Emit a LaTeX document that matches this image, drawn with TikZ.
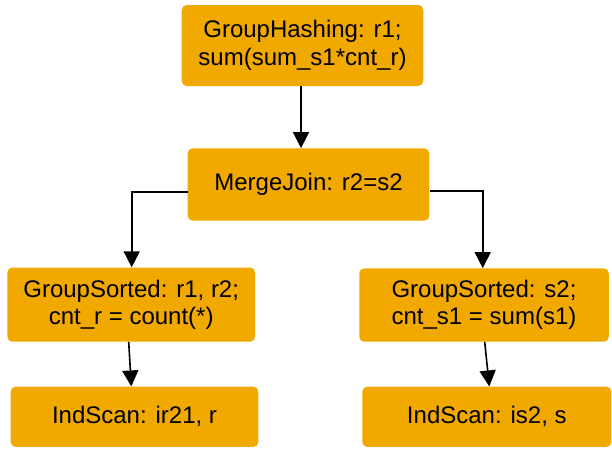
\documentclass[tikz,border=0pt]{standalone}
\usepackage{fontspec}
\setmainfont{Liberation Sans}
\usetikzlibrary{arrows.meta}
\definecolor{boxfill}{RGB}{241,169,0}
\tikzset{
  opbox/.style={fill=boxfill, rounded corners=5pt, inner sep=0pt, align=center,
    font=\fontsize{24}{27.5}\selectfont},
  arr/.style={draw=black, line width=1.6pt, -{Triangle[length=16pt,width=16pt]}}
}
\begin{document}
\begin{tikzpicture}[x=1pt,y=-1pt]
\useasboundingbox (0,0) rectangle (612,448);
\node[opbox, minimum width=241.6pt, minimum height=81pt] (top) at (302.5,45.5)
  {GroupHashing: r1;\\sum(sum\_s1*cnt\_r)};
\node[opbox, minimum width=241.6pt, minimum height=72.4pt] (merge) at (308.5,184.5)
  {MergeJoin: r2=s2};
\node[opbox, minimum width=247.7pt, minimum height=74.2pt] (gsl) at (131.2,304.6)
  {GroupSorted: r1, r2;\\cnt\_r = count(*)};
\node[opbox, minimum width=249.5pt, minimum height=73.4pt] (gsr) at (484,305)
  {GroupSorted: s2;\\cnt\_s1 = sum(s1)};
\node[opbox, minimum width=247.6pt, minimum height=60.3pt] (isl) at (134.5,416.8)
  {IndScan: ir21, r};
\node[opbox, minimum width=249pt, minimum height=60.3pt] (isr) at (486.8,416.8)
  {IndScan: is2, s};
\coordinate (t1) at ([xshift=-1.5pt]top.south);
\draw[arr] (t1) -- (t1 |- merge.north);
\draw[arr] ([yshift=-7.5pt]merge.west) -| ([xshift=0.5pt]gsl.north);
\draw[arr] ([yshift=-6.5pt]merge.east) -| ([xshift=-1.3pt]gsr.north);
\draw[arr] ([xshift=-2.5pt]gsl.south) -- ([xshift=-3.2pt]isl.north);
\draw[arr] ([xshift=0.7pt]gsr.south) -- ([xshift=2.5pt]isr.north);
\end{tikzpicture}
\end{document}
